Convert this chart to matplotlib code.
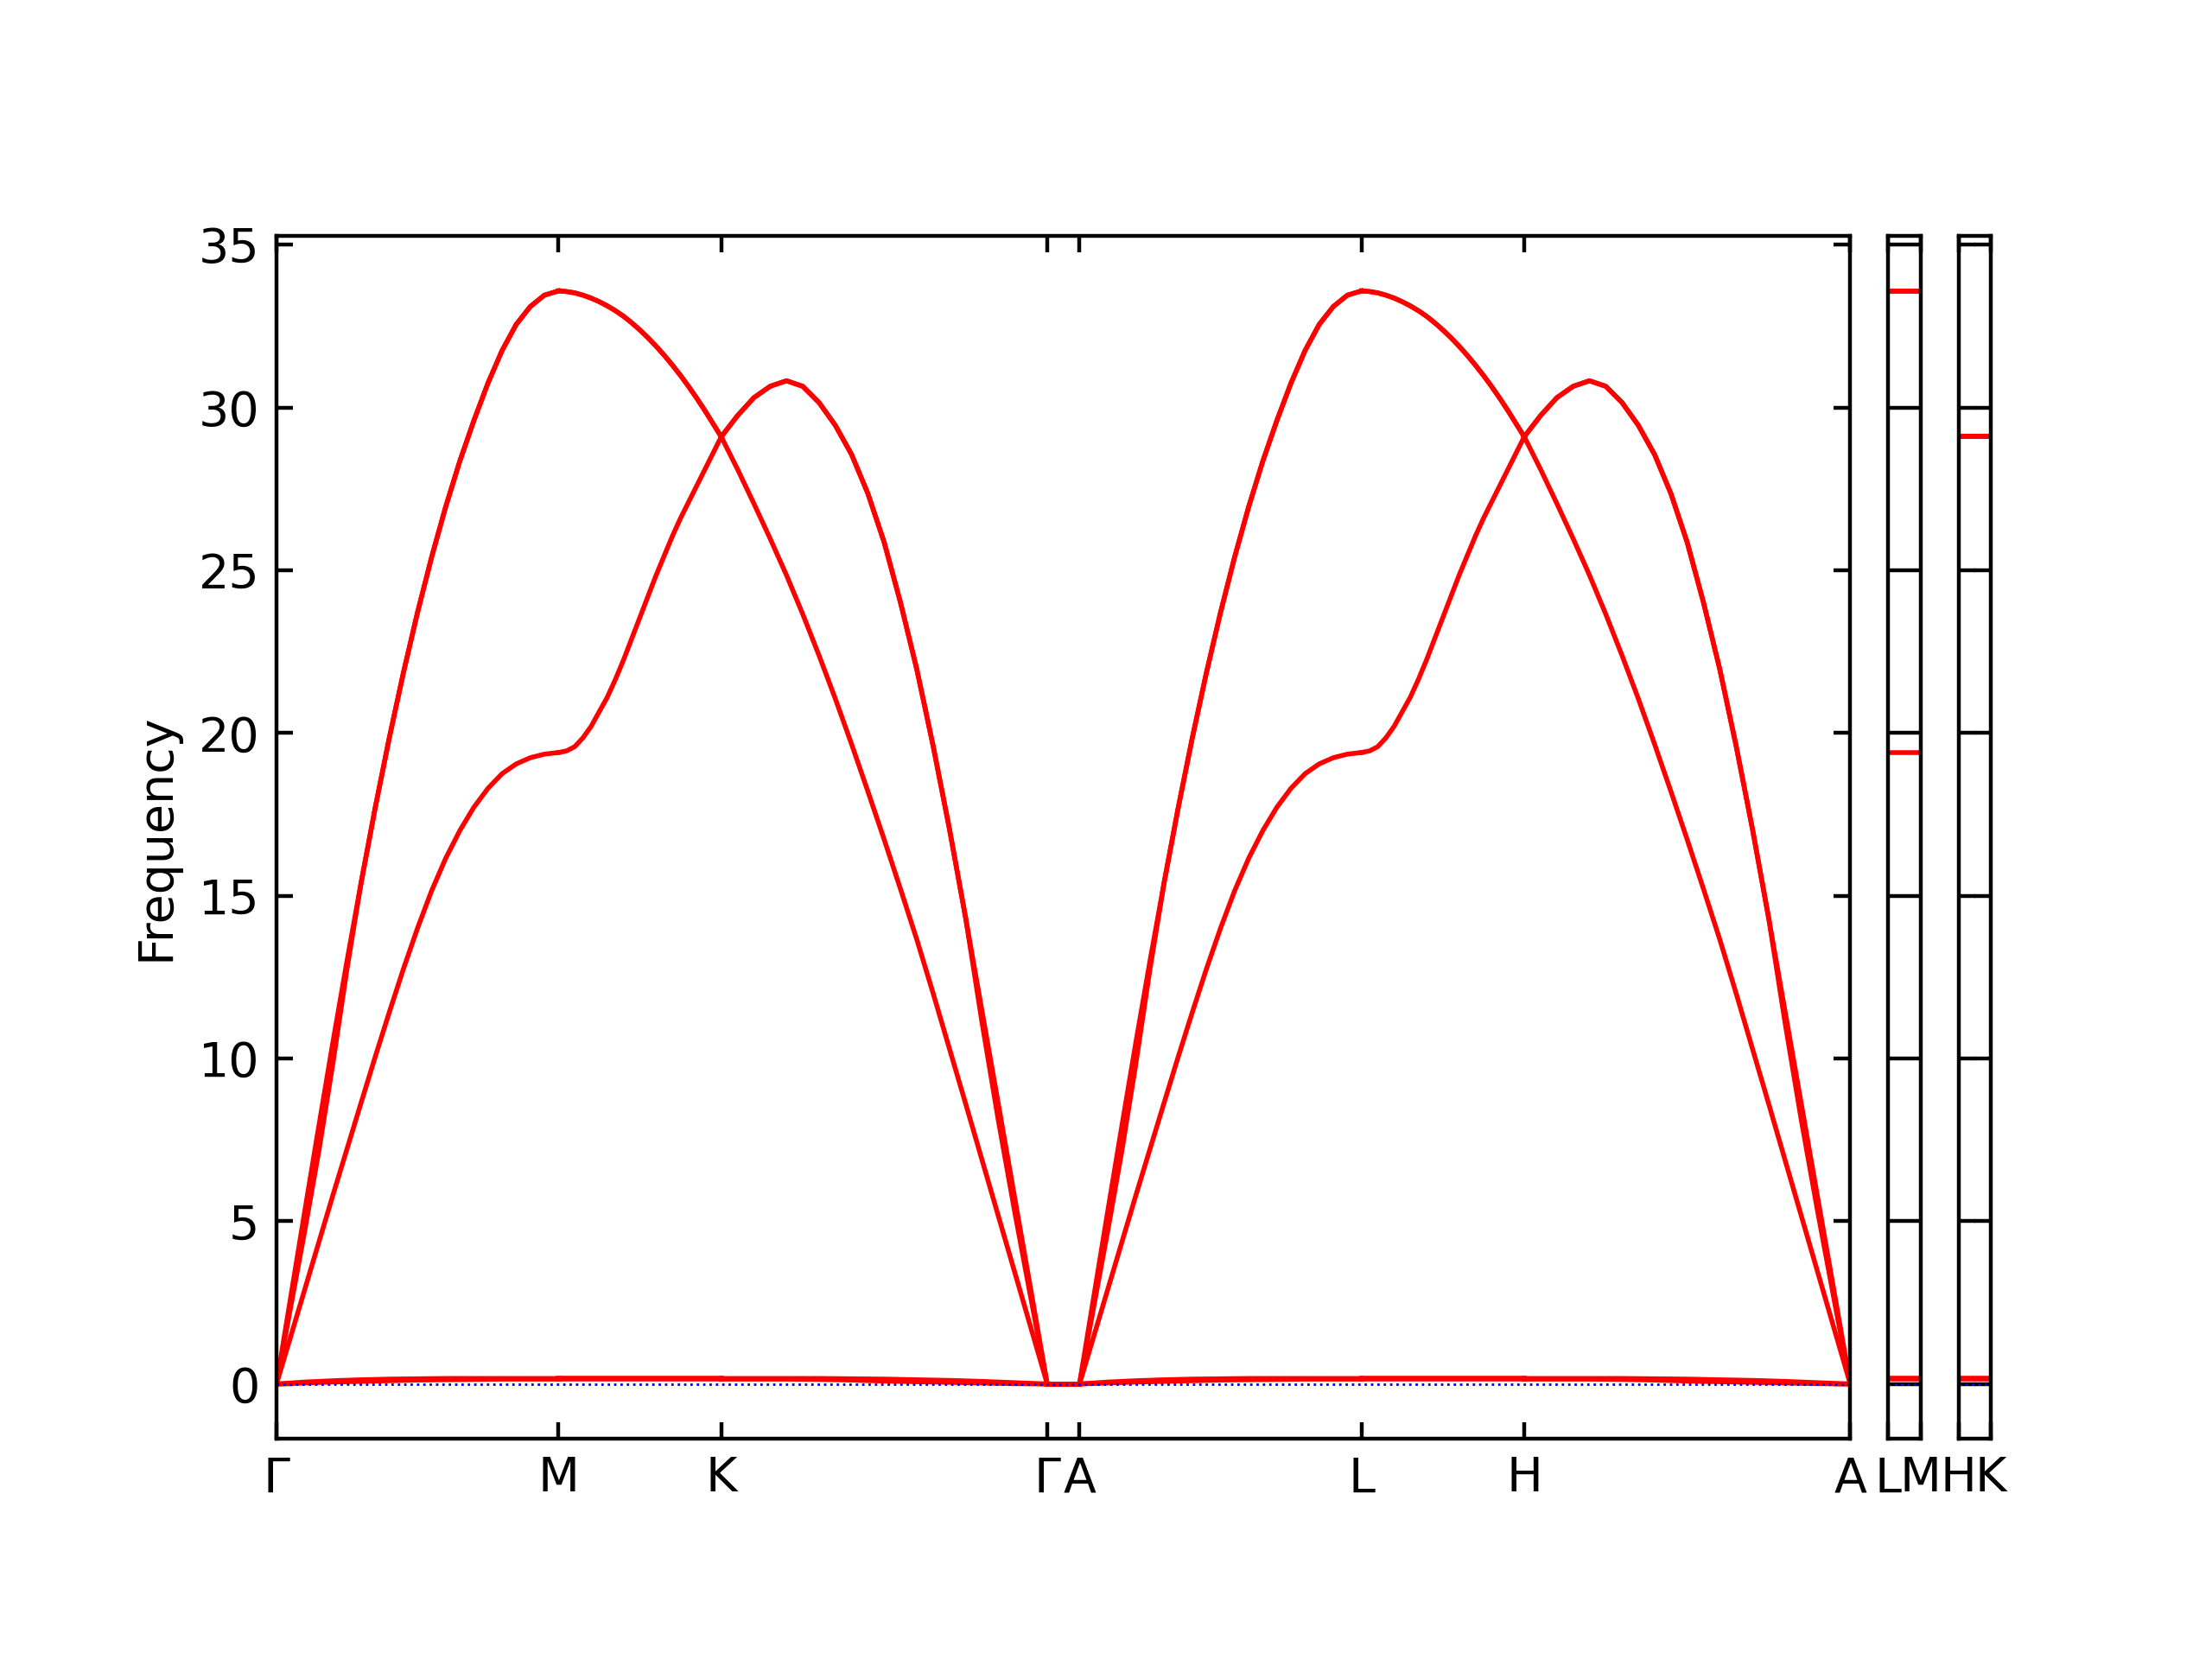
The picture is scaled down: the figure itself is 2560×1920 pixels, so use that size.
import numpy as np
import matplotlib.pyplot as plt

# path: G-M-K-G-A-L-H-A | L-M | H-K
main_labels = ['Γ', 'M', 'K', 'Γ', 'A', 'L', 'H', 'A']
seg_len = [0.577, 0.333, 0.667, 0.066, 0.577, 0.333, 0.667]
seg_kind = ['GM', 'MK', 'KG', 'GA', 'GM', 'MK', 'KG']
panel_len = [0.066, 0.066]
panel_labels = [['L', 'M'], ['H', 'K']]

# fractional position along a segment
t_fine = [0.0, 0.05, 0.1, 0.15, 0.2, 0.25, 0.3, 0.35, 0.4, 0.45, 0.5,
          0.55, 0.6, 0.65, 0.7, 0.75, 0.8, 0.85, 0.9, 0.95, 1.0]
t_flat = [0.0, 0.1, 0.2, 0.3, 0.4, 0.5, 0.6, 0.7, 0.8, 0.9, 1.0]

# Gamma -> M  (same as A -> L)
gm_a = [0.0, 2.65, 5.3, 7.92, 10.5, 13.0, 15.4, 17.7, 19.85, 21.85, 23.7,
        25.4, 26.95, 28.35, 29.6, 30.75, 31.75, 32.55, 33.1, 33.45, 33.58]
gm_d = [0.0, 2.35, 4.7, 7.15, 9.85, 12.75, 15.4, 17.7, 19.85, 21.85, 23.7,
        25.4, 26.95, 28.35, 29.6, 30.75, 31.75, 32.55, 33.1, 33.45, 33.58]
gm_b = [0.0, 1.45, 2.9, 4.35, 5.8, 7.22, 8.64, 10.05, 11.42, 12.75, 14.0,
        15.15, 16.15, 17.0, 17.72, 18.3, 18.75, 19.05, 19.24, 19.35, 19.4]
gm_z1 = [0.0, 0.06, 0.10, 0.13, 0.15, 0.16, 0.17, 0.17, 0.17, 0.17, 0.17]
gm_z2 = [0.0, 0.03, 0.06, 0.08, 0.10, 0.12, 0.13, 0.14, 0.15, 0.15, 0.15]

# M -> K  (same as L -> H)
mk_a = [33.58, 33.56, 33.52, 33.45, 33.36, 33.25, 33.12, 32.97, 32.8, 32.6, 32.38,
        32.14, 31.88, 31.6, 31.3, 30.98, 30.64, 30.28, 29.9, 29.5, 29.1]
mk_d = list(mk_a)
mk_b = [19.4, 19.45, 19.58, 19.85, 20.2, 20.65, 21.1, 21.65, 22.25, 22.9, 23.55,
        24.2, 24.85, 25.45, 26.05, 26.6, 27.1, 27.6, 28.1, 28.6, 29.1]
mk_z1 = [0.17] * 11
mk_z2 = [0.15] * 11

# K -> Gamma  (same as H -> A)
kg_a = [29.1, 28.1, 27.05, 25.97, 24.85, 23.65, 22.38, 21.05, 19.65, 18.2, 16.72,
        15.2, 13.65, 12.0, 10.3, 8.6, 6.88, 5.16, 3.44, 1.72, 0.0]
kg_b = [29.1, 29.75, 30.3, 30.65, 30.82, 30.65, 30.15, 29.45, 28.55, 27.35, 25.85,
        24.0, 21.95, 19.6, 17.05, 14.3, 11.45, 8.6, 5.73, 2.87, 0.0]
kg_d = [29.1, 29.75, 30.3, 30.65, 30.82, 30.65, 30.15, 29.45, 28.55, 27.35, 25.85,
        24.0, 21.95, 19.6, 17.05, 14.3, 11.1, 8.1, 5.3, 2.62, 0.0]
kg_z1 = [0.17, 0.17, 0.17, 0.17, 0.16, 0.15, 0.13, 0.11, 0.08, 0.04, 0.0]
kg_z2 = [0.15, 0.15, 0.15, 0.14, 0.12, 0.09, 0.07, 0.05, 0.03, 0.01, 0.0]

# Gamma -> A : everything at zero
ga_t = [0.0, 1.0]
ga_zero = [0.0, 0.0]

# side panels (flat)
lm_vals = [33.58, 33.58, 19.4, 0.17, 0.15]
hk_vals = [29.1, 29.1, 29.1, 0.17, 0.15]

bands = {
    'GM': [(t_fine, gm_a), (t_fine, gm_d), (t_fine, gm_b),
           (t_flat, gm_z1), (t_flat, gm_z2)],
    'MK': [(t_fine, mk_a), (t_fine, mk_d), (t_fine, mk_b),
           (t_flat, mk_z1), (t_flat, mk_z2)],
    'KG': [(t_fine, kg_a), (t_fine, kg_d), (t_fine, kg_b),
           (t_flat, kg_z1), (t_flat, kg_z2)],
    'GA': [(ga_t, ga_zero)] * 5,
}

fig = plt.figure(figsize=(6.4, 4.8), dpi=400)

pad = 0.11 / 6.4
avail = 0.775 - 2 * pad
tot = sum(seg_len) + sum(panel_len)
bottom, height = 0.1328, 0.725
ymin, ymax = -1.68, 35.27

main_w = avail * sum(seg_len) / tot
ax = fig.add_axes([0.125, bottom, main_w, height])

x0 = 0.0
ticks = [0.0]
for L, kind in zip(seg_len, seg_kind):
    for tt, y in bands[kind]:
        xs = x0 + np.array(tt) * L
        ax.plot(xs, y, 'r-', lw=1.0)
    x0 += L
    ticks.append(x0)

ax.axhline(0, color='b', ls=':', lw=0.5)
ax.set_xlim(0, sum(seg_len))
ax.set_ylim(ymin, ymax)
ax.set_xticks(ticks)
ax.set_xticklabels(main_labels)
ax.set_yticks(np.arange(0, 36, 5))
ax.set_ylabel('Frequency')
ax.tick_params(axis='both', which='both', direction='in',
               top=True, right=True)

# side panels
left = 0.125 + main_w + pad
for L, lbl, vals in zip(panel_len, panel_labels, [lm_vals, hk_vals]):
    w = avail * L / tot
    axp = fig.add_axes([left, bottom, w, height])
    for v in vals:
        axp.plot([0, L], [v, v], 'r-', lw=1.0)
    axp.axhline(0, color='b', ls=':', lw=0.5)
    axp.set_xlim(0, L)
    axp.set_ylim(ymin, ymax)
    axp.set_xticks([0, L])
    axp.set_xticklabels(lbl)
    axp.set_yticks(np.arange(0, 36, 5))
    axp.tick_params(axis='both', which='both', direction='in',
                    top=True, right=True, labelleft=False)
    left += w + pad

plt.savefig('out.png', dpi=400)
